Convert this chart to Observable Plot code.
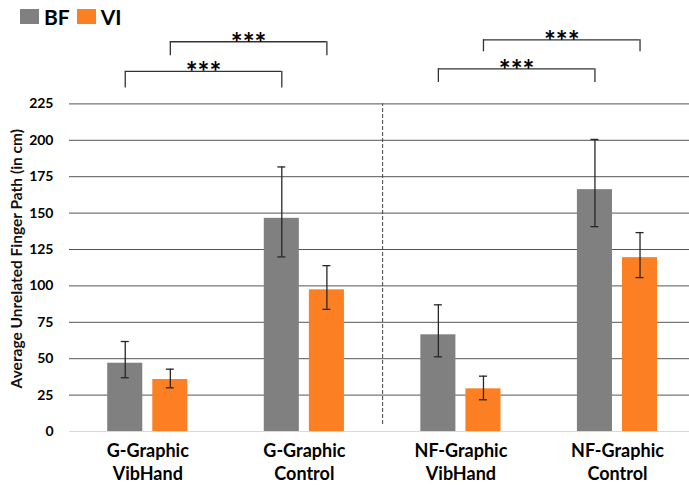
<!DOCTYPE html>
<html>
<head>
<meta charset="utf-8">
<script src="https://cdn.jsdelivr.net/npm/d3@7"></script>
<script src="https://cdn.jsdelivr.net/npm/@observablehq/plot@0.6"></script>
<style>
  html, body { margin: 0; padding: 0; background: #fff; overflow: hidden; }
  #legend { height: 23px; padding-top: 5px; padding-left: 20px; display: flex; align-items: center;
            font-family: Lato, sans-serif; font-weight: bold; font-size: 21px; color: #000; }
  #legend .sw { width: 19px; height: 15px; display: inline-block; margin-right: 5px; }
  #legend .item { display: flex; align-items: center; margin-right: 7px; }
</style>
</head>
<body>
<div id="legend"></div>
<div id="chart"></div>
<script>
// ---- data ----
const groups = ["G-Graphic\nVibHand", "G-Graphic\nControl", "NF-Graphic\nVibHand", "NF-Graphic\nControl"];
const series = ["BF", "VI"];
const colors = ["#808080", "#fd7f23"];
const bfMean = [46.9, 146.4, 66.4, 166.1];
const bfLow  = [36.9, 119.9, 51.3, 140.7];
const bfHigh = [61.8, 181.7, 87.0, 200.6];
const viMean = [35.7, 97.3, 29.3, 119.4];
const viLow  = [30.0, 83.9, 21.8, 105.7];
const viHigh = [42.8, 113.9, 38.0, 136.6];
const yTicks = [0, 25, 50, 75, 100, 125, 150, 175, 200, 225];
const yLabel = "Average Unrelated Finger Path (in cm)";
// significance brackets: compare group a vs group b for a series, bracket level (y units)
const bracketFrom   = [0, 0, 2, 2];
const bracketTo     = [1, 1, 3, 3];
const bracketSeries = ["BF", "VI", "BF", "VI"];
const bracketLevel  = [247.3, 267.7, 249.1, 269.0];
const bracketLeg    = [236.0, 258.0, 239.7, 260.8];
const bracketLabel  = ["***", "***", "***", "***"];

// ---- build tables ----
const means = {BF: bfMean, VI: viMean}, lows = {BF: bfLow, VI: viLow}, highs = {BF: bfHigh, VI: viHigh};
const rows = groups.flatMap((g, gi) => series.map((s, si) => ({
  g, gi, s, si, mean: means[s][gi], low: lows[s][gi], high: highs[s][gi]
})));
const OFF = 0.144, HALF = 0.112;
const pos = (gi, s) => gi + (series.indexOf(s) - 0.5) * 2 * OFF;
const xc = d => pos(d.gi, d.s);
const brackets = bracketFrom.map((f, i) => ({
  a: pos(f, bracketSeries[i]), b: pos(bracketTo[i], bracketSeries[i]),
  y: bracketLevel[i], leg: bracketLeg[i], label: bracketLabel[i]
}));
const sep = groups.findIndex(g => g.startsWith("NF")) - 0.5;

// ---- legend ----
document.getElementById("legend").innerHTML = series.map((s, i) =>
  `<span class="item"><span class="sw" style="background:${colors[i]}"></span>${s}</span>`).join("");

// ---- chart ----
const ink = "#262626";
const chart = Plot.plot({
  width: 689,
  height: 457,
  marginLeft: 69,
  marginRight: 0,
  marginTop: 75.4,
  marginBottom: 54,
  style: {fontFamily: "Lato, sans-serif", color: "#000", background: "#fff", overflow: "visible"},
  x: {type: "linear", domain: [-0.5, 3.46], axis: null},
  y: {domain: [0, 225], axis: null},
  color: {domain: series, range: colors},
  marks: [
    Plot.ruleY(yTicks.filter(t => t > 0), {stroke: "#555", strokeWidth: 1}),
    Plot.ruleY([0], {stroke: "#d9d9d9", strokeWidth: 1}),
    Plot.ruleX([sep], {y1: 0, y2: 225, insetTop: -7, stroke: "#444", strokeWidth: 1, strokeDasharray: "4,2"}),
    Plot.rectY(rows, {x1: d => xc(d) - HALF, x2: d => xc(d) + HALF, y1: 0, y2: "mean", fill: "s"}),
    Plot.ruleX(rows, {x: xc, y1: "low", y2: "high", stroke: ink, strokeWidth: 1.3}),
    Plot.ruleY(rows, {y: "low", x1: xc, x2: xc, insetLeft: -4, insetRight: -4, stroke: ink, strokeWidth: 1.3}),
    Plot.ruleY(rows, {y: "high", x1: xc, x2: xc, insetLeft: -4, insetRight: -4, stroke: ink, strokeWidth: 1.3}),
    // brackets
    Plot.ruleY(brackets, {y: "y", x1: "a", x2: "b", stroke: "#333", strokeWidth: 1.3}),
    Plot.ruleX(brackets, {x: "a", y1: "leg", y2: "y", stroke: "#333", strokeWidth: 1.3}),
    Plot.ruleX(brackets, {x: "b", y1: "leg", y2: "y", stroke: "#333", strokeWidth: 1.3}),
    Plot.text(brackets, {x: d => (d.a + d.b) / 2, y: "y", text: "label", fontSize: 28, fontWeight: "bold",
      fill: "#000", lineAnchor: "middle", dy: 2, style: "letter-spacing:1px"}),
    // axes
    Plot.axisY({ticks: yTicks, tickSize: 0, tickPadding: 16, fontSize: 14, fontWeight: "bold", label: null}),
    Plot.axisX({ticks: groups.map((g, i) => i), tickFormat: i => groups[i], tickSize: 0, tickPadding: 8,
      fontSize: 18, fontWeight: "bold", lineHeight: 1.33, label: null}),
    Plot.text([yLabel], {frameAnchor: "left", rotate: -90, dx: -52.5, dy: -9, fontSize: 15.5, fontWeight: "bold",
      fill: "#111", textAnchor: "middle"})
  ]
});
document.getElementById("chart").appendChild(chart);
</script>
</body>
</html>
